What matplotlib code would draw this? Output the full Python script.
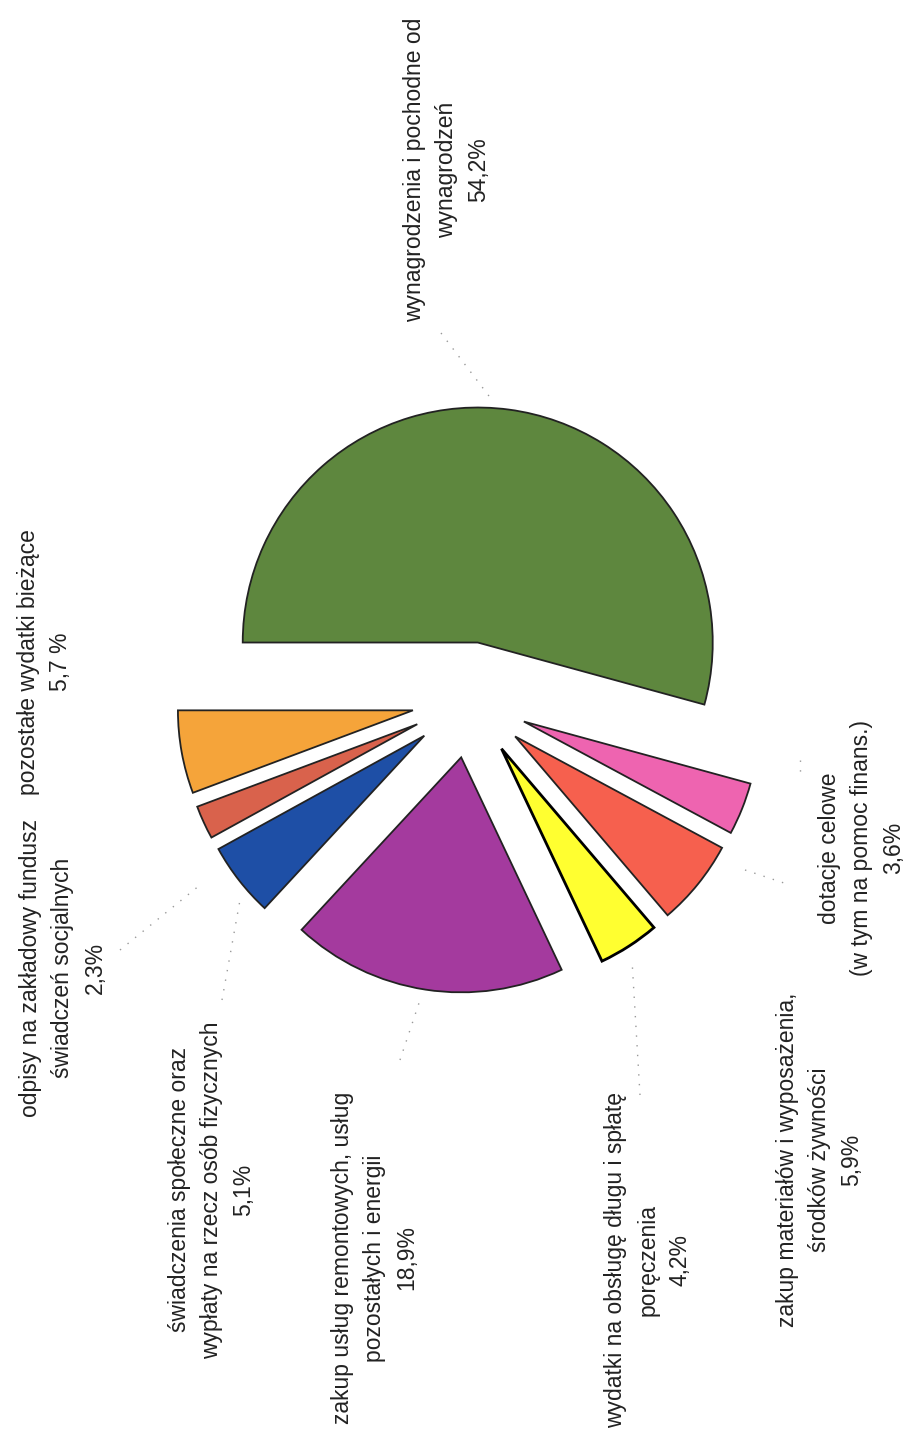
import matplotlib
matplotlib.use("Agg")
import matplotlib.pyplot as plt

plt.rcParams['font.family'] = ['Liberation Sans', 'DejaVu Sans']

# ---------------- data ----------------
categories = [
    'pozostałe wydatki bieżące',
    'odpisy na zakładowy fundusz\nświadczeń socjalnych',
    'świadczenia społeczne oraz\nwypłaty na rzecz osób fizycznych',
    'zakup usług remontowych, usług\npozostałych i energii',
    'wydatki na obsługę długu i spłatę\nporęczenia',
    'zakup materiałów i wyposażenia,\nśrodków żywności',
    'dotacje celowe\n(w tym na pomoc finans.)',
    'wynagrodzenia i pochodne od\nwynagrodzeń',
]
values = [5.7, 2.3, 5.1, 18.9, 4.2, 5.9, 3.6, 54.2]
value_labels = ['5,7 %', '2,3%', '5,1%', '18,9%', '4,2%', '5,9%', '3,6%', '54,2%']

# ---------------- style / layout ----------------
colors = ['#F5A43A', '#D9624C', '#1E4FA6', '#A43A9E',
          '#FFFF30', '#F6604E', '#EE64B0', '#5E873E']
W, H = 904, 1434
R = 235          # pie radius in pixels
OFFSET = 58      # explode distance in pixels
label_pos_img = [(45, 662), (63, 968), (212, 1190), (375, 1258),
                 (648, 1260), (820, 1160), (862, 848), (447, 170)]

fig = plt.figure(figsize=(W / 100, H / 100), dpi=100)
ax = fig.add_axes([0, 0, 1, 1])

wedges, _ = ax.pie(values, colors=colors, startangle=180, counterclock=True,
                   center=(470, H - 700), radius=R,
                   explode=[OFFSET] * len(values),
                   wedgeprops=dict(edgecolor='#222222', linewidth=1.3),
                   frame=True)
wedges[4].set_edgecolor('black')
wedges[4].set_linewidth(2.0)
ax.set_xlim(0, W)
ax.set_ylim(0, H)
ax.axis('off')

for cat, val, (xi, yi) in zip(categories, value_labels, label_pos_img):
    ax.text(xi, H - yi, cat + '\n' + val, rotation=90, ha='center', va='center',
            multialignment='center', fontsize=16.5, color='#222222', linespacing=1.5)

# faint leader lines
leaders = [((441, 333), (492, 400)), ((120, 950), (200, 885)),
           ((222, 1000), (240, 900)), ((400, 1060), (420, 1000)),
           ((640, 1095), (632, 960)), ((745, 870), (790, 885)),
           ((800, 760), (800, 775))]
for (x0, y0), (x1, y1) in leaders:
    ax.plot([x0, x1], [H - y0, H - y1], color='#999999', lw=1.0,
            linestyle=(0, (1, 6)))

fig.savefig('out.png', dpi=100, facecolor='white')
